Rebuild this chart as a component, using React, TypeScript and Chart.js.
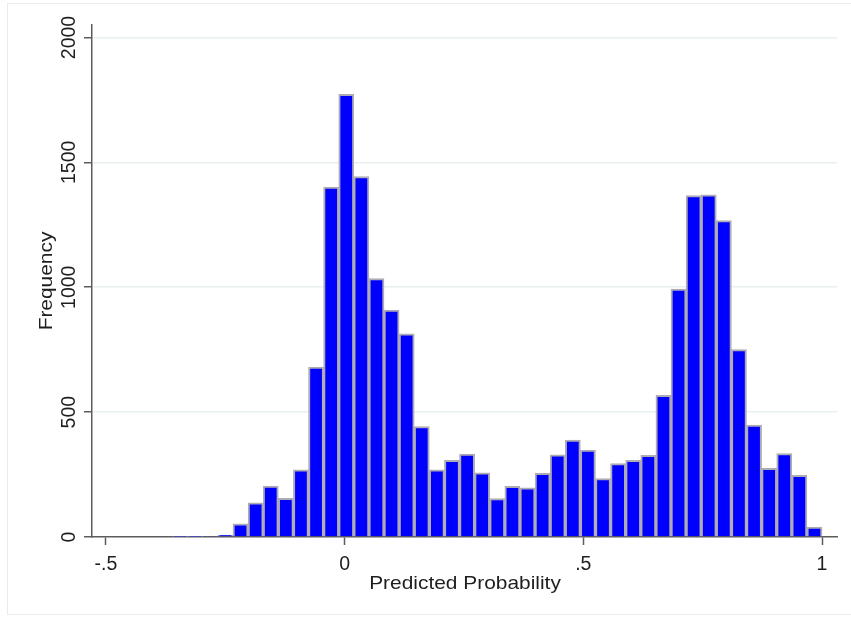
import React, { useEffect, useRef } from "react";
import { Chart, registerables } from "chart.js";

Chart.register(...registerables);

// Histogram definition (43 bins)
const binStart = -0.3605;
const binWidth = 0.03164;
const frequencies = [
  2, 2, 3, 8, 53, 137, 204, 155, 269, 680,
  1401, 1772, 1443, 1035, 909, 813, 442, 269, 307, 332,
  257, 154, 203, 197, 255, 329, 388, 348, 234, 294,
  307, 327, 567, 993, 1367, 1370, 1267, 750, 448, 275,
  334, 247, 40,
];
const xTicks = [-0.5, 0, 0.5, 1];
const xTickLabels = ["-.5", "0", ".5", "1"];
const yTicks = [0, 500, 1000, 1500, 2000];
const yTickLabels = ["0", "500", "1000", "1500", "2000"];
const xTitle = "Predicted Probability";
const yTitle = "Frequency";

const FONT = '"Liberation Sans", Arial, sans-serif';
const TEXT = "#1e1e1e";
const AXIS = "#5c5c5c";

const labelsPlugin = {
  id: "stataLabels",
  afterDraw(chart: any) {
    const ctx = chart.ctx;
    const xs = chart.scales.x;
    const ys = chart.scales.y;
    ctx.save();
    ctx.fillStyle = TEXT;
    // y tick labels (rotated)
    ctx.font = `19.5px ${FONT}`;
    ctx.textAlign = "center";
    ctx.textBaseline = "alphabetic";
    yTicks.forEach((v, i) => {
      const py = ys.getPixelForValue(v);
      ctx.save();
      ctx.translate(75, py);
      ctx.rotate(-Math.PI / 2);
      ctx.fillText(yTickLabels[i], 0, 0);
      ctx.restore();
    });
    // x tick labels
    xTicks.forEach((v, i) => {
      const px = xs.getPixelForValue(v);
      ctx.fillText(xTickLabels[i], px, 570);
    });
    // x title
    ctx.font = `19px ${FONT}`;
    ctx.save();
    ctx.translate(465, 589);
    ctx.scale(1.1, 1);
    ctx.fillText(xTitle, 0, 0);
    ctx.restore();
    // y title
    ctx.save();
    ctx.translate(52, 281);
    ctx.rotate(-Math.PI / 2);
    ctx.scale(1.1, 1);
    ctx.fillText(yTitle, 0, 0);
    ctx.restore();
    ctx.restore();
  },
};

export default function App() {
  const ref = useRef<HTMLCanvasElement | null>(null);

  useEffect(() => {
    if (!ref.current) return;
    const points = frequencies.map((f, i) => ({
      x: binStart + (i + 0.5) * binWidth,
      y: f,
    }));
    const chart = new Chart(ref.current, {
      type: "bar",
      data: {
        datasets: [
          {
            data: points as any,
            backgroundColor: "#0000ff",
            borderColor: "#aeabb4",
            borderWidth: 2,
            borderSkipped: "bottom",
            barPercentage: 1,
            categoryPercentage: 1,
          },
        ],
      },
      options: {
        responsive: false,
        maintainAspectRatio: false,
        animation: false,
        layout: { padding: { left: 0, right: 14, top: 25, bottom: 0 } },
        plugins: {
          legend: { display: false },
          tooltip: { enabled: false },
        },
        scales: {
          x: {
            type: "linear",
            min: -0.5293,
            max: 1.0314,
            offset: false,
            afterBuildTicks: (s: any) => {
              s.ticks = xTicks.map((v) => ({ value: v }));
            },
            afterFit: (s: any) => {
              s.height = 82;
            },
            ticks: { display: false },
            grid: {
              drawOnChartArea: false,
              drawTicks: true,
              tickLength: 8,
              tickColor: AXIS,
              tickWidth: 1.5,
              offset: false,
            },
            border: { display: true, color: AXIS, width: 1.5 },
          },
          y: {
            type: "linear",
            min: 0,
            max: 2050,
            afterBuildTicks: (s: any) => {
              s.ticks = yTicks.map((v) => ({ value: v }));
            },
            afterFit: (s: any) => {
              s.width = 92;
            },
            ticks: { display: false },
            grid: {
              drawOnChartArea: true,
              color: (c: any) => (c.tick && c.tick.value === 0 ? "rgba(0,0,0,0)" : "#e7eff1"),
              lineWidth: 1.5,
              drawTicks: true,
              tickLength: 8,
              tickColor: AXIS,
              tickWidth: 1.5,
            },
            border: { display: true, color: AXIS, width: 1.5 },
          },
        },
      },
      plugins: [labelsPlugin],
    });
    return () => chart.destroy();
  }, []);

  return (
    <div
      style={{
        position: "fixed",
        left: 0,
        top: 0,
        width: 851,
        height: 619,
        background: "#ffffff",
        overflow: "hidden",
      }}
    >
      <div
        style={{
          position: "absolute",
          left: 7,
          top: 3,
          width: 900,
          height: 612,
          border: "1px solid #e6ecef",
          boxSizing: "border-box",
        }}
      />
      <canvas ref={ref} width={851} height={619} style={{ position: "absolute", left: 0, top: 0 }} />
    </div>
  );
}
